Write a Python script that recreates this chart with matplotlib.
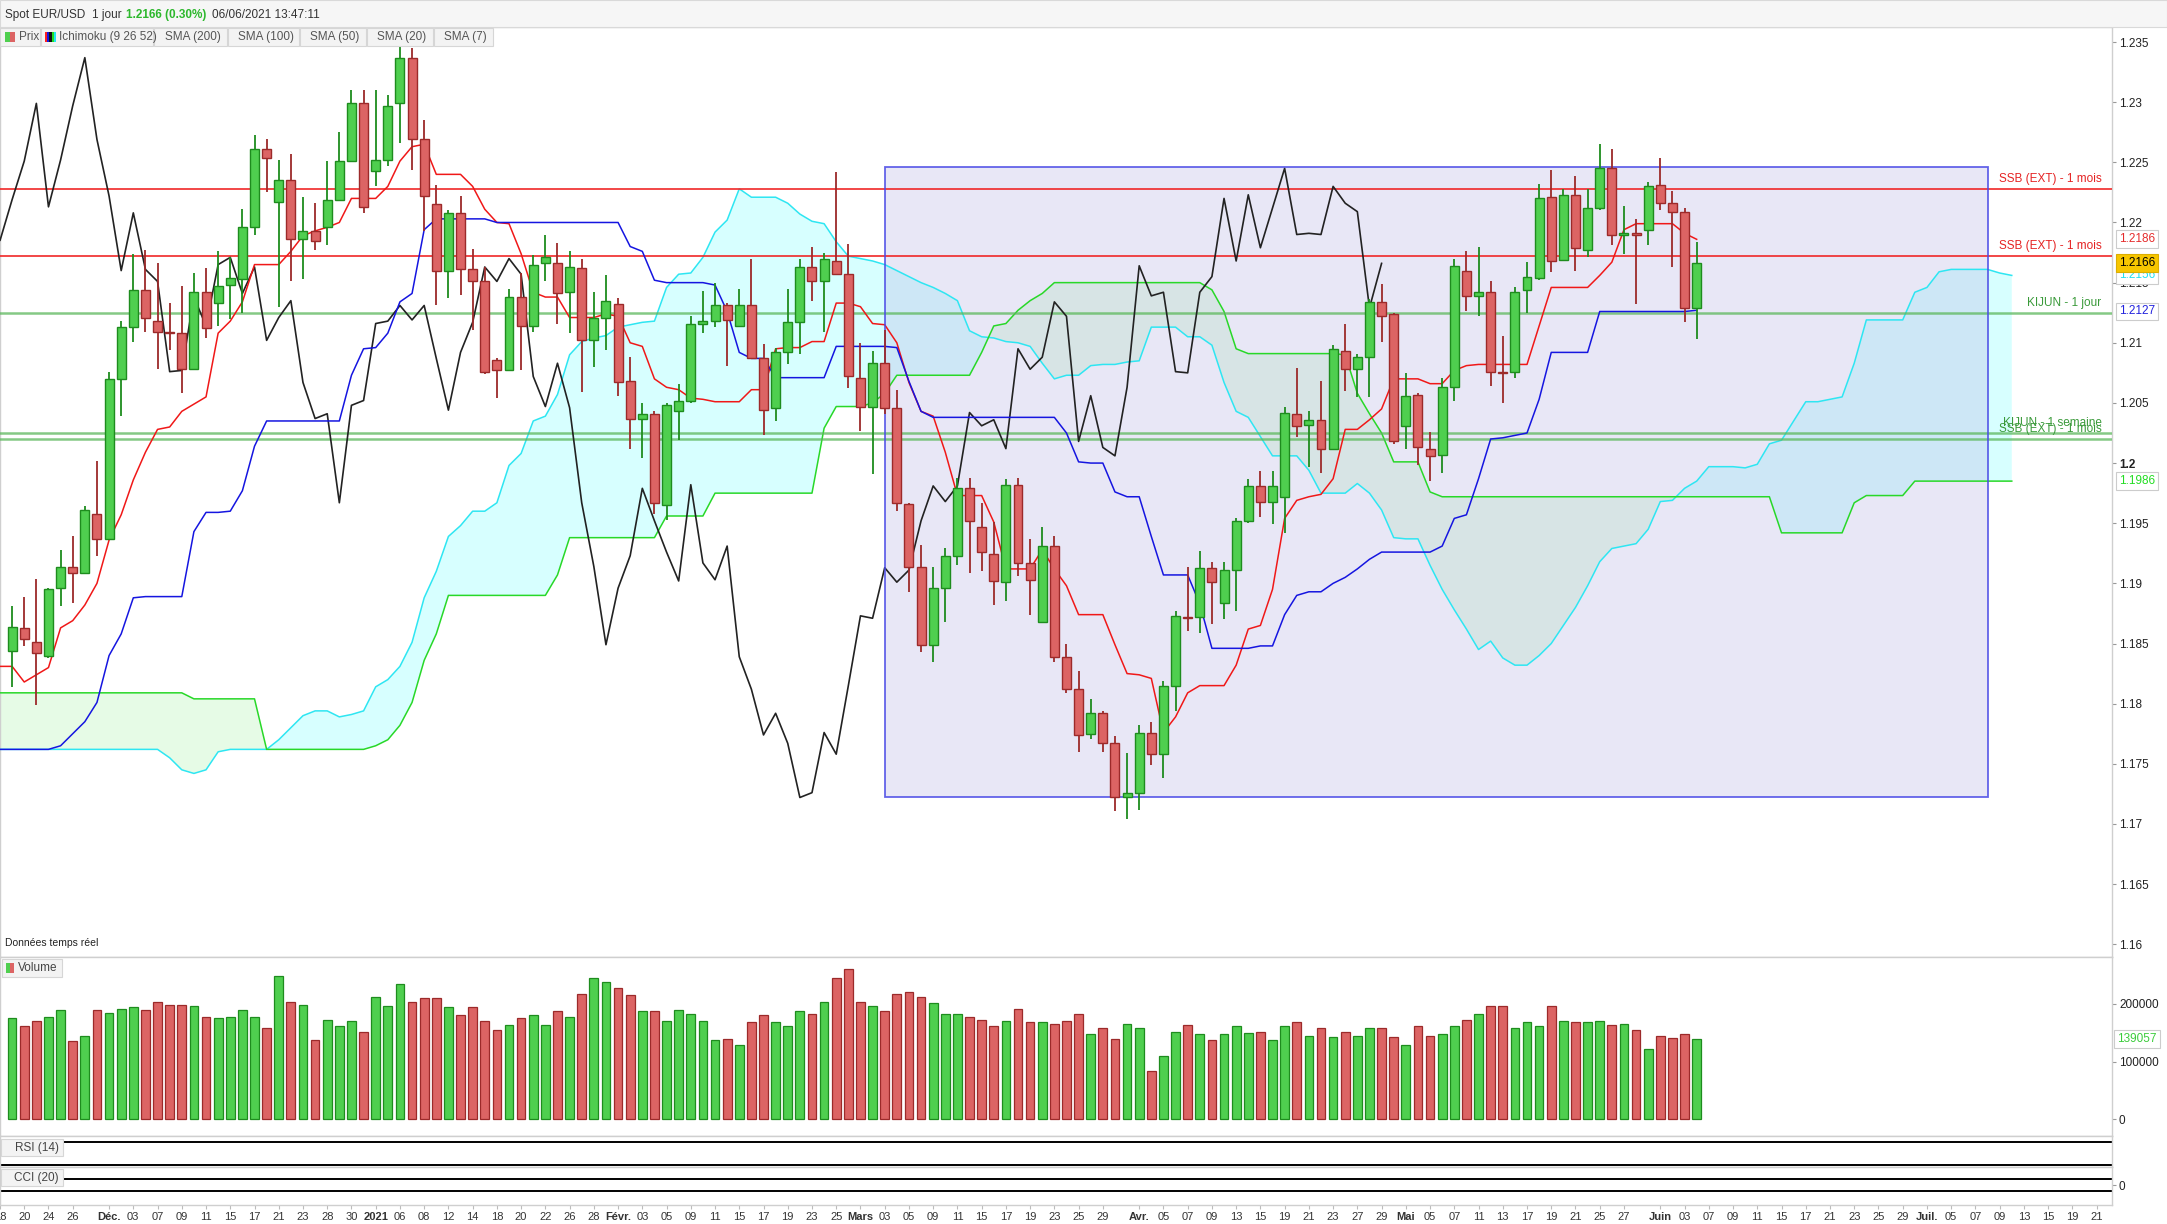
import numpy as np
import pandas as pd
import matplotlib
matplotlib.use("Agg")
import matplotlib.pyplot as plt
from matplotlib.patches import Rectangle
import matplotlib.transforms as mtransforms

plt.rcParams['font.family'] = ['Liberation Sans', 'DejaVu Sans']

W, H = 2167, 1224

# ---- daily candles EUR/USD, 2020-11-19 .. 2021-06-04 ----
opens = [1.1844, 1.1863, 1.1851, 1.1840, 1.1896, 1.1914, 1.1909, 1.1958, 1.1937, 1.2070,
         1.2113, 1.2144, 1.2118, 1.2109, 1.2108, 1.2078, 1.2142, 1.2133, 1.2148, 1.2153,
         1.2196, 1.2261, 1.2217, 1.2235, 1.2186, 1.2193, 1.2196, 1.2219, 1.2251, 1.2299,
         1.2243, 1.2252, 1.2299, 1.2337, 1.2269, 1.2215, 1.2160, 1.2208, 1.2161, 1.2151,
         1.2086, 1.2077, 1.2138, 1.2114, 1.2166, 1.2166, 1.2142, 1.2162, 1.2102, 1.2121,
         1.2132, 1.2068, 1.2037, 1.2041, 1.1965, 1.2043, 1.2052, 1.2116, 1.2118, 1.2131,
         1.2114, 1.2131, 1.2087, 1.2046, 1.2092, 1.2117, 1.2163, 1.2151, 1.2168, 1.2157,
         1.2071, 1.2047, 1.2083, 1.2046, 1.1966, 1.1914, 1.1849, 1.1896, 1.1923, 1.1979,
         1.1947, 1.1924, 1.1901, 1.1982, 1.1917, 1.1868, 1.1931, 1.1839, 1.1812, 1.1775,
         1.1792, 1.1767, 1.1722, 1.1726, 1.1776, 1.1758, 1.1815, 1.1872, 1.1872, 1.1913,
         1.1884, 1.1911, 1.1952, 1.1981, 1.1968, 1.1972, 1.2041, 1.2032, 1.2036, 1.2012,
         1.2093, 1.2078, 1.2088, 1.2134, 1.2124, 1.2031, 1.2057, 1.2012, 1.2007, 1.2063,
         1.2160, 1.2139, 1.2142, 1.2076, 1.2076, 1.2144, 1.2154, 1.2221, 1.2169, 1.2223,
         1.2177, 1.2212, 1.2245, 1.2190, 1.2191, 1.2194, 1.2231, 1.2216, 1.2209, 1.2129]
highs = [1.1881, 1.1889, 1.1904, 1.1896, 1.1928, 1.1939, 1.1964, 1.2002, 1.2076, 1.2118,
         1.2174, 1.2177, 1.2166, 1.2133, 1.2147, 1.2158, 1.2162, 1.2176, 1.2171, 1.2211,
         1.2273, 1.2269, 1.2252, 1.2257, 1.2221, 1.2216, 1.2251, 1.2275, 1.2310, 1.2310,
         1.2310, 1.2306, 1.2349, 1.2345, 1.2285, 1.2231, 1.2210, 1.2222, 1.2178, 1.2163,
         1.2087, 1.2145, 1.2158, 1.2173, 1.2190, 1.2183, 1.2176, 1.2170, 1.2142, 1.2156,
         1.2137, 1.2088, 1.2050, 1.2043, 1.2050, 1.2066, 1.2122, 1.2143, 1.2150, 1.2133,
         1.2145, 1.2170, 1.2099, 1.2096, 1.2145, 1.2170, 1.2180, 1.2175, 1.2242, 1.2182,
         1.2100, 1.2093, 1.2111, 1.2061, 1.1967, 1.1932, 1.1914, 1.1929, 1.1988, 1.1988,
         1.1967, 1.1951, 1.1987, 1.1988, 1.1937, 1.1947, 1.1939, 1.1850, 1.1827, 1.1804,
         1.1794, 1.1773, 1.1759, 1.1782, 1.1785, 1.1819, 1.1877, 1.1914, 1.1927, 1.1918,
         1.1918, 1.1954, 1.1987, 1.1993, 1.1993, 1.2047, 1.2079, 1.2043, 1.2068, 1.2098,
         1.2116, 1.2091, 1.2136, 1.2149, 1.2125, 1.2075, 1.2058, 1.2026, 1.2071, 1.2170,
         1.2176, 1.2180, 1.2151, 1.2106, 1.2146, 1.2167, 1.2232, 1.2244, 1.2228, 1.2239,
         1.2228, 1.2265, 1.2261, 1.2214, 1.2203, 1.2234, 1.2254, 1.2226, 1.2212, 1.2184]
lows = [1.1814, 1.1848, 1.1799, 1.1838, 1.1881, 1.1884, 1.1908, 1.1923, 1.1936, 1.2039,
        1.2101, 1.2109, 1.2078, 1.2094, 1.2058, 1.2077, 1.2104, 1.2114, 1.2120, 1.2125,
        1.2190, 1.2225, 1.2130, 1.2151, 1.2153, 1.2177, 1.2181, 1.2218, 1.2251, 1.2208,
        1.2230, 1.2247, 1.2266, 1.2244, 1.2193, 1.2131, 1.2137, 1.2140, 1.2111, 1.2074,
        1.2054, 1.2077, 1.2077, 1.2109, 1.2151, 1.2116, 1.2108, 1.2059, 1.2080, 1.2094,
        1.2056, 1.2012, 1.2004, 1.1958, 1.1953, 1.2019, 1.2050, 1.2108, 1.2113, 1.2081,
        1.2114, 1.2087, 1.2023, 1.2035, 1.2082, 1.2091, 1.2135, 1.2109, 1.2156, 1.2062,
        1.2027, 1.1991, 1.2041, 1.1960, 1.1893, 1.1843, 1.1835, 1.1868, 1.1915, 1.1909,
        1.1910, 1.1882, 1.1885, 1.1906, 1.1874, 1.1868, 1.1835, 1.1809, 1.1760, 1.1771,
        1.1760, 1.1711, 1.1704, 1.1712, 1.1749, 1.1738, 1.1794, 1.1860, 1.1859, 1.1866,
        1.1870, 1.1877, 1.1950, 1.1955, 1.1949, 1.1942, 1.2022, 1.1997, 1.1992, 1.2012,
        1.2060, 1.2055, 1.2055, 1.2101, 1.2016, 1.2012, 1.1998, 1.1985, 1.1992, 1.2052,
        1.2126, 1.2122, 1.2064, 1.2050, 1.2071, 1.2125, 1.2152, 1.2159, 1.2168, 1.2160,
        1.2171, 1.2210, 1.2181, 1.2174, 1.2132, 1.2181, 1.2210, 1.2163, 1.2117, 1.2103]
closes = [1.1864, 1.1854, 1.1842, 1.1895, 1.1914, 1.1909, 1.1961, 1.1937, 1.2070, 1.2113,
          1.2144, 1.2121, 1.2109, 1.2108, 1.2078, 1.2142, 1.2112, 1.2147, 1.2154, 1.2196,
          1.2261, 1.2254, 1.2235, 1.2186, 1.2193, 1.2185, 1.2219, 1.2251, 1.2299, 1.2213,
          1.2252, 1.2297, 1.2337, 1.2269, 1.2222, 1.2160, 1.2208, 1.2161, 1.2151, 1.2076,
          1.2077, 1.2138, 1.2114, 1.2165, 1.2171, 1.2141, 1.2163, 1.2102, 1.2121, 1.2135,
          1.2067, 1.2037, 1.2041, 1.1967, 1.2048, 1.2052, 1.2116, 1.2118, 1.2131, 1.2119,
          1.2131, 1.2087, 1.2044, 1.2092, 1.2117, 1.2163, 1.2151, 1.2170, 1.2157, 1.2072,
          1.2047, 1.2083, 1.2046, 1.1967, 1.1914, 1.1849, 1.1896, 1.1923, 1.1979, 1.1952,
          1.1926, 1.1902, 1.1982, 1.1917, 1.1903, 1.1931, 1.1839, 1.1812, 1.1774, 1.1792,
          1.1767, 1.1722, 1.1726, 1.1776, 1.1758, 1.1815, 1.1873, 1.1871, 1.1913, 1.1901,
          1.1911, 1.1952, 1.1981, 1.1968, 1.1981, 1.2042, 1.2031, 1.2036, 1.2012, 1.2095,
          1.2078, 1.2088, 1.2134, 1.2122, 1.2018, 1.2056, 1.2013, 1.2006, 1.2063, 1.2164,
          1.2139, 1.2142, 1.2076, 1.2075, 1.2142, 1.2155, 1.2220, 1.2168, 1.2223, 1.2179,
          1.2212, 1.2245, 1.2190, 1.2191, 1.2190, 1.2230, 1.2216, 1.2209, 1.2129, 1.2166]

volumes = [175000, 161000, 171000, 177000, 190000, 135000, 144000, 189000, 184000, 191000,
           194000, 189000, 204000, 199000, 199000, 197000, 177000, 175000, 177000, 189000,
           178000, 159000, 248000, 204000, 199000, 138000, 173000, 161000, 171000, 152000,
           213000, 196000, 234000, 204000, 210000, 211000, 194000, 180000, 194000, 171000,
           155000, 164000, 175000, 180000, 164000, 187000, 178000, 218000, 246000, 238000,
           227000, 215000, 187000, 187000, 171000, 189000, 182000, 171000, 138000, 140000,
           129000, 169000, 180000, 168000, 161000, 187000, 182000, 204000, 245000, 260000,
           203000, 196000, 187000, 218000, 220000, 213000, 201000, 182000, 183000, 178000,
           173000, 161000, 171000, 192000, 169000, 168000, 166000, 171000, 182000, 147000,
           159000, 140000, 166000, 159000, 84000, 110000, 152000, 164000, 148000, 138000,
           147000, 161000, 150000, 152000, 138000, 161000, 168000, 145000, 159000, 143000,
           152000, 145000, 159000, 159000, 143000, 129000, 161000, 145000, 148000, 161000,
           173000, 182000, 196000, 196000, 159000, 169000, 162000, 196000, 171000, 168000,
           169000, 171000, 164000, 166000, 155000, 122000, 145000, 141000, 148000, 139057]

# ---- Ichimoku (9 26 52); these lists start one bar
#      before the first candle (bar -1) so the lines reach the left edge ----
tenkan = [1.1831,
          1.1831, 1.1818, 1.1824, 1.1830, 1.1863, 1.1869, 1.1882, 1.1900, 1.1936, 1.1957,
          1.1986, 1.2009, 1.2028, 1.2030, 1.2043, 1.2049, 1.2055, 1.2108, 1.2118, 1.2134,
          1.2165, 1.2165, 1.2165, 1.2176, 1.2189, 1.2193, 1.2196, 1.2200, 1.2220, 1.2220,
          1.2220, 1.2230, 1.2251, 1.2263, 1.2265, 1.2240, 1.2240, 1.2240, 1.2230, 1.2211,
          1.2200, 1.2199, 1.2174, 1.2142, 1.2138, 1.2138, 1.2121, 1.2121, 1.2121, 1.2124,
          1.2122, 1.2100, 1.2097, 1.2070, 1.2063, 1.2061, 1.2054, 1.2053, 1.2051, 1.2051,
          1.2051, 1.2061, 1.2061, 1.2095, 1.2096, 1.2096, 1.2101, 1.2101, 1.2133, 1.2133,
          1.2130, 1.2116, 1.2115, 1.2100, 1.2067, 1.2043, 1.2039, 1.2009, 1.1973, 1.1973,
          1.1973, 1.1951, 1.1912, 1.1912, 1.1912, 1.1928, 1.1912, 1.1898, 1.1874, 1.1874,
          1.1874, 1.1849, 1.1825, 1.1824, 1.1821, 1.1776, 1.1789, 1.1809, 1.1815, 1.1815,
          1.1815, 1.1832, 1.1862, 1.1865, 1.1895, 1.1954, 1.1969, 1.1972, 1.1974, 1.1987,
          1.2028, 1.2028, 1.2036, 1.2045, 1.2070, 1.2070, 1.2070, 1.2066, 1.2066, 1.2077,
          1.2081, 1.2082, 1.2082, 1.2082, 1.2082, 1.2082, 1.2114, 1.2146, 1.2146, 1.2146,
          1.2146, 1.2156, 1.2167, 1.2194, 1.2199, 1.2199, 1.2199, 1.2199, 1.2191, 1.2186]
kijun = [1.1762,
         1.1762, 1.1762, 1.1762, 1.1762, 1.1765, 1.1775, 1.1785, 1.1801, 1.1840, 1.1858,
         1.1888, 1.1889, 1.1889, 1.1889, 1.1889, 1.1943, 1.1959, 1.1959, 1.1960, 1.1977,
         1.2014, 1.2035, 1.2035, 1.2035, 1.2035, 1.2035, 1.2035, 1.2035, 1.2073, 1.2095,
         1.2096, 1.2108, 1.2134, 1.2141, 1.2194, 1.2203, 1.2203, 1.2203, 1.2203, 1.2203,
         1.2200, 1.2200, 1.2200, 1.2200, 1.2200, 1.2200, 1.2200, 1.2200, 1.2200, 1.2200,
         1.2200, 1.2180, 1.2176, 1.2152, 1.2150, 1.2150, 1.2150, 1.2150, 1.2148, 1.2126,
         1.2092, 1.2087, 1.2087, 1.2071, 1.2071, 1.2071, 1.2071, 1.2071, 1.2097, 1.2097,
         1.2097, 1.2097, 1.2097, 1.2096, 1.2068, 1.2043, 1.2038, 1.2038, 1.2038, 1.2038,
         1.2038, 1.2038, 1.2038, 1.2038, 1.2038, 1.2038, 1.2038, 1.2025, 1.2001, 1.2000,
         1.2000, 1.1976, 1.1972, 1.1972, 1.1939, 1.1907, 1.1907, 1.1907, 1.1883, 1.1846,
         1.1846, 1.1846, 1.1846, 1.1848, 1.1848, 1.1874, 1.1890, 1.1893, 1.1893, 1.1900,
         1.1905, 1.1912, 1.1920, 1.1926, 1.1926, 1.1926, 1.1926, 1.1926, 1.1931, 1.1954,
         1.1957, 1.1987, 1.2020, 1.2021, 1.2023, 1.2025, 1.2053, 1.2092, 1.2092, 1.2092,
         1.2092, 1.2126, 1.2126, 1.2126, 1.2126, 1.2126, 1.2126, 1.2126, 1.2126, 1.2127]
senkou_a = [1.1762,
            1.1762, 1.1762, 1.1762, 1.1762, 1.1762, 1.1762, 1.1762, 1.1762, 1.1762, 1.1762,
            1.1762, 1.1762, 1.1762, 1.1755, 1.1745, 1.1742, 1.1745, 1.1760, 1.1762, 1.1762,
            1.1762, 1.1762, 1.1770, 1.1780, 1.1790, 1.1794, 1.1794, 1.1789, 1.1791, 1.1794,
            1.1814, 1.1820, 1.1831, 1.1851, 1.1888, 1.1910, 1.1939, 1.1948, 1.1960, 1.1960,
            1.1967, 1.1998, 1.2008, 1.2035, 1.2039, 1.2057, 1.2090, 1.2101, 1.2104, 1.2106,
            1.2113, 1.2115, 1.2117, 1.2118, 1.2146, 1.2157, 1.2158, 1.2171, 1.2192, 1.2202,
            1.2228, 1.2221, 1.2221, 1.2221, 1.2216, 1.2207, 1.2201, 1.2199, 1.2184, 1.2172,
            1.2170, 1.2168, 1.2165, 1.2160, 1.2155, 1.2150, 1.2146, 1.2141, 1.2135, 1.2110,
            1.2105, 1.2104, 1.2101, 1.2100, 1.2097, 1.2083, 1.2070, 1.2073, 1.2073, 1.2081,
            1.2082, 1.2082, 1.2084, 1.2085, 1.2113, 1.2113, 1.2113, 1.2105, 1.2105, 1.2098,
            1.2067, 1.2043, 1.2038, 1.2022, 1.2006, 1.2006, 1.2006, 1.1994, 1.1975, 1.1975,
            1.1975, 1.1983, 1.1975, 1.1961, 1.1938, 1.1937, 1.1937, 1.1915, 1.1895, 1.1878,
            1.1862, 1.1845, 1.1852, 1.1838, 1.1832, 1.1832, 1.1840, 1.1850, 1.1865, 1.1880,
            1.1898, 1.1918, 1.1929, 1.1931, 1.1933, 1.1945, 1.1968, 1.1969, 1.1979, 1.1985,
            1.1997, 1.1997, 1.1997, 1.1996, 1.1999, 1.2016, 1.2019, 1.2035, 1.2051, 1.2051,
            1.2053, 1.2055, 1.2083, 1.2119, 1.2119, 1.2119, 1.2119, 1.2142, 1.2146, 1.2159,
            1.2161, 1.2161, 1.2161, 1.2161, 1.2158, 1.2156]
senkou_b = [1.1809,
            1.1809, 1.1809, 1.1809, 1.1809, 1.1809, 1.1809, 1.1809, 1.1809, 1.1809, 1.1809,
            1.1809, 1.1809, 1.1809, 1.1809, 1.1809, 1.1804, 1.1804, 1.1804, 1.1804, 1.1804,
            1.1804, 1.1762, 1.1762, 1.1762, 1.1762, 1.1762, 1.1762, 1.1762, 1.1762, 1.1762,
            1.1765, 1.1770, 1.1782, 1.1801, 1.1836, 1.1858, 1.1890, 1.1890, 1.1890, 1.1890,
            1.1890, 1.1890, 1.1890, 1.1890, 1.1890, 1.1907, 1.1938, 1.1938, 1.1938, 1.1938,
            1.1938, 1.1938, 1.1938, 1.1938, 1.1956, 1.1956, 1.1956, 1.1956, 1.1975, 1.1975,
            1.1975, 1.1975, 1.1975, 1.1975, 1.1975, 1.1975, 1.1975, 1.2029, 1.2047, 1.2047,
            1.2047, 1.2050, 1.2058, 1.2073, 1.2073, 1.2073, 1.2073, 1.2073, 1.2073, 1.2073,
            1.2092, 1.2114, 1.2116, 1.2127, 1.2135, 1.2141, 1.2150, 1.2150, 1.2150, 1.2150,
            1.2150, 1.2150, 1.2150, 1.2150, 1.2150, 1.2150, 1.2150, 1.2150, 1.2150, 1.2144,
            1.2126, 1.2095, 1.2091, 1.2091, 1.2091, 1.2091, 1.2091, 1.2091, 1.2091, 1.2091,
            1.2090, 1.2058, 1.2041, 1.2025, 1.2001, 1.2001, 1.2001, 1.1976, 1.1972, 1.1972,
            1.1972, 1.1972, 1.1972, 1.1972, 1.1972, 1.1972, 1.1972, 1.1972, 1.1972, 1.1972,
            1.1972, 1.1972, 1.1972, 1.1972, 1.1972, 1.1972, 1.1972, 1.1972, 1.1972, 1.1972,
            1.1972, 1.1972, 1.1972, 1.1972, 1.1972, 1.1972, 1.1942, 1.1942, 1.1942, 1.1942,
            1.1942, 1.1942, 1.1967, 1.1973, 1.1973, 1.1973, 1.1973, 1.1985, 1.1985, 1.1985,
            1.1985, 1.1985, 1.1985, 1.1985, 1.1985, 1.1985]
chikou_shift = 26

# ---- drawn objects ----
level_values = [1.2228, 1.2172, 1.2125, 1.2025, 1.2020]
level_texts = ['SSB (EXT) - 1 mois', 'SSB (EXT) - 1 mois', 'KIJUN - 1 jour',
               'KIJUN - 1 semaine', 'SSB (EXT) - 1 mois']
level_kinds = ['red', 'red', 'green', 'green', 'green']
zone_dates = ['2021-03-03', '2021-07-08']
zone_prices = [1.1722, 1.2246]

price_tags = [(1.2186, '1.2186', '#e52b2b'), (1.2156, '1.2156', '#22e0f0'),
              (1.2126, '1.2127', '#2222dd'), (1.1985, '1.1986', '#22dd22')]
last_price = 1.2166

holidays = ['2020-12-25', '2021-01-01']
tick_dates = ['2020-11-18', '2020-11-20', '2020-11-24', '2020-11-26', '2020-12-01', '2020-12-03',
              '2020-12-07', '2020-12-09', '2020-12-11', '2020-12-15', '2020-12-17', '2020-12-21',
              '2020-12-23', '2020-12-28', '2020-12-30', '2021-01-04', '2021-01-06', '2021-01-08',
              '2021-01-12', '2021-01-14', '2021-01-18', '2021-01-20', '2021-01-22', '2021-01-26',
              '2021-01-28', '2021-02-01', '2021-02-03', '2021-02-05', '2021-02-09', '2021-02-11',
              '2021-02-15', '2021-02-17', '2021-02-19', '2021-02-23', '2021-02-25', '2021-03-01',
              '2021-03-03', '2021-03-05', '2021-03-09', '2021-03-11', '2021-03-15', '2021-03-17',
              '2021-03-19', '2021-03-23', '2021-03-25', '2021-03-29', '2021-04-01', '2021-04-05',
              '2021-04-07', '2021-04-09', '2021-04-13', '2021-04-15', '2021-04-19', '2021-04-21',
              '2021-04-23', '2021-04-27', '2021-04-29', '2021-05-03', '2021-05-05', '2021-05-07',
              '2021-05-11', '2021-05-13', '2021-05-17', '2021-05-19', '2021-05-21', '2021-05-25',
              '2021-05-27', '2021-06-01', '2021-06-03', '2021-06-07', '2021-06-09', '2021-06-11',
              '2021-06-15', '2021-06-17', '2021-06-21', '2021-06-23', '2021-06-25', '2021-06-29',
              '2021-07-01', '2021-07-05', '2021-07-07', '2021-07-09', '2021-07-13', '2021-07-15',
              '2021-07-19', '2021-07-21']
month_labels = {'2020-12-01': 'Déc.', '2021-01-04': '2021', '2021-02-01': 'Févr.',
                '2021-03-01': 'Mars', '2021-04-01': 'Avr.', '2021-05-03': 'Mai',
                '2021-06-01': 'Juin', '2021-07-01': 'Juil.'}

# trading calendar -> bar index (2020-11-19 is bar 0)
cal = pd.bdate_range('2020-11-18', '2021-07-30')
cal = cal[~cal.isin(pd.to_datetime(holidays))]
bar_of = {d.strftime('%Y-%m-%d'): k - 1 for k, d in enumerate(cal)}


def fx(px):
    return px / W


def fy(py):
    return 1 - py / H


def fig_box(x0, y0, x1, y1, **kw):
    # rectangle given in picture pixels (top-left origin)
    fig.add_artist(Rectangle((fx(x0), fy(y1)), fx(x1 - x0), (y1 - y0) / H,
                             transform=fig.transFigure, **kw))


GREEN, GREEN_E = '#4fcf4f', '#1e8c1e'
RED, RED_E = '#dc6464', '#9c2a2a'
GRID = '#cfcfcf'

fig = plt.figure(figsize=(W / 100, H / 100), dpi=100)
ax = fig.add_axes([0, fy(957), fx(2112), (957 - 27) / H])
axv = fig.add_axes([0, fy(1136), fx(2112), (1136 - 957) / H], sharex=ax)
axr = fig.add_axes([0, fy(1167), fx(2112), 31 / H], sharex=ax)
axc = fig.add_axes([0, fy(1205), fx(2112), 38 / H], sharex=ax)

n = len(closes)
x = np.arange(n)
o, h, l, c = map(np.array, (opens, highs, lows, closes))
up = c >= o

# cloud
xs = np.arange(len(senkou_a)) - 1
sa, sb = np.array(senkou_a), np.array(senkou_b)
ax.fill_between(xs, sa, sb, where=sa >= sb, interpolate=True, color='#d7ffff', lw=0, zorder=1)
ax.fill_between(xs, sa, sb, where=sa < sb, interpolate=True, color='#e6fbe6', lw=0, zorder=1)

# zone rectangle
zx0, zx1 = bar_of[zone_dates[0]], bar_of[zone_dates[1]]
ax.add_patch(Rectangle((zx0, zone_prices[0]), zx1 - zx0, zone_prices[1] - zone_prices[0],
                       fc='#b6b2e4', alpha=0.3, ec='none', zorder=2))
ax.add_patch(Rectangle((zx0, zone_prices[0]), zx1 - zx0, zone_prices[1] - zone_prices[0],
                       fill=False, ec='#4a4ae6', alpha=0.85, lw=1.3, zorder=6))

ax.plot(xs, sa, color='#2ee6f2', lw=1.1, zorder=3)
ax.plot(xs, sb, color='#28d828', lw=1.1, zorder=3)

# horizontal levels
xr = 172.4
for val, txt, kind in zip(level_values, level_texts, level_kinds):
    if kind == 'red':
        ax.axhline(val, color='#f02828', lw=1.2, zorder=3.5)
        tc = '#e52222'
    else:
        ax.axhline(val, color='#5cb85c', lw=1.8, alpha=0.75, zorder=3.5)
        tc = '#3a9a3a'
    ax.annotate(txt, xy=(xr, val), xytext=(0, 3), textcoords='offset points',
                ha='right', va='bottom', color=tc, fontsize=8.5, zorder=7)

# ichimoku lines
xl = np.arange(len(tenkan)) - 1
ax.plot(x - chikou_shift, c, color='#222222', lw=1.2, zorder=5)
ax.plot(xl, tenkan, color='#f01818', lw=1.1, zorder=5)
ax.plot(xl, kijun, color='#1515e0', lw=1.1, zorder=5)

# candles
bw = 0.74
ax.vlines(x[up], l[up], h[up], color=GREEN_E, lw=1.3, zorder=6)
ax.vlines(x[~up], l[~up], h[~up], color=RED_E, lw=1.3, zorder=6)
bodies = np.maximum(np.abs(c - o), 0.00004)
ax.bar(x[up], bodies[up], bottom=np.minimum(o, c)[up], width=bw, color=GREEN,
       edgecolor=GREEN_E, lw=1.0, zorder=7)
ax.bar(x[~up], bodies[~up], bottom=np.minimum(o, c)[~up], width=bw, color=RED,
       edgecolor=RED_E, lw=1.0, zorder=7)

ax.set_xlim(-0.708, 173.27)
ax.set_ylim(1.15894, 1.23625)

# right price axis
yt = [round(1.16 + 0.005 * k, 3) for k in range(16)]
ax.yaxis.tick_right()
ax.set_yticks(yt)
ax.set_yticklabels([('%.3f' % v).rstrip('0').rstrip('.') for v in yt], fontsize=8.5, color='#222')
for lab, v in zip(ax.get_yticklabels(), yt):
    if abs(v - 1.2) < 1e-9:
        lab.set_fontweight('bold')
ax.tick_params(axis='y', length=3, color='#999', pad=2)

blend = mtransforms.blended_transform_factory(ax.transAxes, ax.transData)
for val, txt, col in price_tags:
    ax.text(1.0118, val, txt, transform=blend, ha='center', va='center', color=col,
            fontsize=8.5, clip_on=False, zorder=20,
            bbox=dict(boxstyle='square,pad=0.25', fc='white', ec='#cccccc', lw=0.8))
ax.text(1.0118, last_price, '%.4f' % last_price, transform=blend, ha='center', va='center',
        color='black', fontsize=8.5, clip_on=False, zorder=21,
        bbox=dict(boxstyle='square,pad=0.25', fc='#f7c600', ec='#dcae00', lw=0.8))

ax.text(0.0025, 1.1601, 'Données temps réel', fontsize=7.5, color='#222',
        transform=blend, ha='left', va='center')

# volume
vol = np.array(volumes)
axv.bar(x[up], vol[up], width=0.72, color=GREEN, edgecolor=GREEN_E, lw=0.9)
axv.bar(x[~up], vol[~up], width=0.72, color=RED, edgecolor=RED_E, lw=0.9)
axv.set_ylim(-29565, 281739)
axv.yaxis.tick_right()
axv.set_yticks([0, 100000, 200000])
axv.set_yticklabels(['0', '100000', '200000'], fontsize=8.5, color='#222')
axv.tick_params(axis='y', length=3, color='#999', pad=2)
vblend = mtransforms.blended_transform_factory(axv.transAxes, axv.transData)
axv.text(1.0118, vol[-1], '%d' % vol[-1], transform=vblend, ha='center', va='center',
         color='#3ccc3c', fontsize=8.5, clip_on=False, zorder=20,
         bbox=dict(boxstyle='square,pad=0.25', fc='white', ec='#cccccc', lw=0.8))

# RSI / CCI panels
axr.set_ylim(26.6, 79.4)
axr.axhline(70, color='black', lw=1.4)
axr.axhline(30, color='black', lw=1.4)
axr.set_yticks([])
axc.set_ylim(-333, 300)
axc.axhline(100, color='black', lw=1.4)
axc.axhline(-100, color='black', lw=1.4)
axc.yaxis.tick_right()
axc.set_yticks([0])
axc.set_yticklabels(['0'], fontsize=8.5, color='#222')
axc.tick_params(axis='y', length=3, color='#999', pad=2)

# x axis
tpos = [bar_of[d] for d in tick_dates]
tlab = [month_labels.get(d, d[-2:]) for d in tick_dates]
axc.set_xticks(tpos)
axc.set_xticklabels(tlab, fontsize=8, color='#333')
for lab, d in zip(axc.get_xticklabels(), tick_dates):
    if d in month_labels:
        lab.set_fontweight('bold')
axc.tick_params(axis='x', length=3, color='#bbb', pad=2)
for a in (ax, axv, axr):
    a.tick_params(axis='x', bottom=False, labelbottom=False)
for a in (ax, axv, axr, axc):
    for s in a.spines.values():
        s.set_color(GRID)
        s.set_linewidth(1.0)

# header band
fig_box(0, 0, W, 27, fc='#f6f6f6', ec='#d9d9d9', lw=0.8, zorder=5)
hy = fy(15)
fig.text(fx(5), hy, 'Spot EUR/USD', fontsize=8.5, color='#333', va='center', zorder=6)
fig.text(fx(92), hy, '1 jour', fontsize=8.5, color='#333', va='center', zorder=6)
fig.text(fx(126), hy, '1.2166 (0.30%)', fontsize=8.5, color='#2db82d', fontweight='bold',
         va='center', zorder=6)
fig.text(fx(212), hy, '06/06/2021 13:47:11', fontsize=8.5, color='#333', va='center', zorder=6)

# indicator legend row
boxes = [(0, 40, 'Prix'), (41, 153, 'Ichimoku (9 26 52)'), (154, 227, 'SMA (200)'),
         (228, 299, 'SMA (100)'), (300, 366, 'SMA (50)'), (367, 433, 'SMA (20)'),
         (434, 493, 'SMA (7)')]
for x0, x1, txt in boxes:
    fig_box(x0, 28, x1, 46, fc='#f3f3f3', ec='#d6d6d6', lw=0.8, zorder=5)
    if txt == 'Prix':
        fig.text(fx(19), fy(37), txt, fontsize=8.5, color='#555', ha='left', va='center', zorder=6)
    elif txt.startswith('Ichimoku'):
        fig.text(fx(59), fy(37), txt, fontsize=8.5, color='#555', ha='left', va='center', zorder=6)
    else:
        fig.text(fx((x0 + x1) / 2 + 2), fy(37), txt, fontsize=8.5, color='#555', ha='center',
                 va='center', zorder=6)
fig_box(5, 32, 10, 42, fc=GREEN, ec='none', zorder=6)
fig_box(10, 32, 15, 42, fc=RED, ec='none', zorder=6)
for k, col in enumerate(['#ff2020', '#1515e0', '#111111', '#22dd22', '#22e6f2']):
    fig_box(45 + 2.2 * k, 32, 47.2 + 2.2 * k, 42, fc=col, ec='none', zorder=6)

# volume / rsi / cci labels
fig_box(2, 959, 62, 977, fc='#f3f3f3', ec='#d6d6d6', lw=0.8, zorder=5)
fig_box(6, 963, 10, 973, fc=GREEN, ec='none', zorder=6)
fig_box(10, 963, 14, 973, fc=RED, ec='none', zorder=6)
fig.text(fx(18), fy(968), 'Volume', fontsize=8.5, color='#444', va='center', zorder=6)
for y0, txt in [(1139, 'RSI (14)'), (1169, 'CCI (20)')]:
    fig_box(1, y0, 63, y0 + 17, fc='#f3f3f3', ec='#d6d6d6', lw=0.8, zorder=5)
    fig.text(fx(59), fy(y0 + 8.5), txt, fontsize=8.5, color='#444', ha='right', va='center',
             zorder=6)

fig.savefig('out.png', dpi=100)
